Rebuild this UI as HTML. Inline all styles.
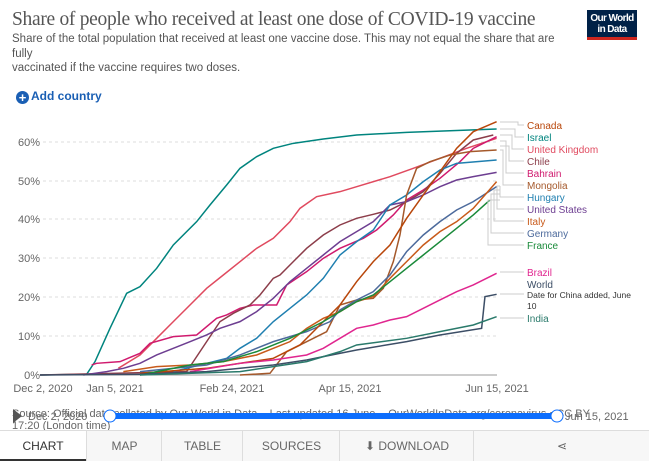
<!DOCTYPE html>
<html><head><meta charset="utf-8"><style>
body{margin:0;width:649px;height:462px;background:#fff;font-family:"Liberation Sans",sans-serif;overflow:hidden;position:relative}
.t{position:absolute;left:12px;top:9px;font-family:"Liberation Serif",serif;font-size:19.5px;color:#555;letter-spacing:-0.3px}
.s{position:absolute;left:12px;top:32px;font-size:11.5px;color:#555;line-height:14.5px;width:600px;white-space:nowrap}
.logo{position:absolute;left:587px;top:10px;width:50px;height:30px;background:#002147;color:#fff;font-size:10px;font-weight:bold;text-align:center;line-height:11px;padding-top:3px;box-sizing:border-box;letter-spacing:-0.6px;border-bottom:3px solid #ce261e}
.add{position:absolute;left:16px;top:89px;font-size:12px;color:#1a5fb4;font-weight:bold}
.add b{display:inline-block;width:13px;height:13px;border-radius:50%;background:#1a5fb4;color:#fff;text-align:center;line-height:13px;font-size:13px;vertical-align:-2px;margin-right:2px}
.tabs{position:absolute;left:0;top:430px;width:649px;height:32px;border-top:1px solid #ddd;font-size:12px;color:#666}
.tabs div{position:absolute;top:0;height:30px;line-height:30px;text-align:center;border-left:1px solid #ddd;background:#f7f7f7}
</style></head><body>
<div class="t">Share of people who received at least one dose of COVID-19 vaccine</div>
<div class="s">Share of the total population that received at least one vaccine dose. This may not equal the share that are<br>fully<br>vaccinated if the vaccine requires two doses.</div>
<div class="logo">Our World<br>in Data</div>
<div class="add"><b>+</b>Add country</div>
<svg width="649" height="462" style="position:absolute;left:0;top:0" font-family="Liberation Sans" font-size="11">
<g stroke="#ddd" stroke-dasharray="3,3">
<line x1="43" x2="497" y1="142" y2="142"/><line x1="43" x2="497" y1="181" y2="181"/><line x1="43" x2="497" y1="219" y2="219"/><line x1="43" x2="497" y1="258" y2="258"/><line x1="43" x2="497" y1="297" y2="297"/><line x1="43" x2="497" y1="336" y2="336"/></g>
<line x1="43" x2="497" y1="375" y2="375" stroke="#999"/>
<g fill="#666" text-anchor="end"><text x="40" y="146">60%</text><text x="40" y="185">50%</text><text x="40" y="223">40%</text><text x="40" y="262">30%</text><text x="40" y="301">20%</text><text x="40" y="340">10%</text><text x="40" y="379">0%</text></g>
<g fill="#666" text-anchor="middle"><text x="43" y="392">Dec 2, 2020</text><text x="115" y="392">Jan 5, 2021</text><text x="232" y="392">Feb 24, 2021</text><text x="350" y="392">Apr 15, 2021</text><text x="497" y="392">Jun 15, 2021</text></g>
<g transform="translate(40,115) scale(0.3333)" fill="none" stroke-width="4.5">
<polyline stroke="#00847e" points="0,780 140,778 165,740 210,640 260,535 300,515 350,460 400,390 470,320 510,270 560,210 600,160 650,125 700,100 760,85 850,72 950,60 1100,52 1370,42"/>
<polyline stroke="#e04a5f" points="235,760 300,720 350,670 400,620 450,570 500,520 550,480 600,440 650,400 700,370 750,320 780,280 830,245 900,230 950,215 1050,185 1120,160 1200,130 1280,100 1370,70"/>
<polyline stroke="#d01a6e" points="155,750 170,745 240,740 300,715 330,685 400,665 470,660 530,610 560,600 600,580 640,570 710,570 740,510 800,470 850,430 900,400 970,370 1010,345 1060,300 1100,255 1150,225 1200,190 1260,140 1300,100 1370,65"/>
<polyline stroke="#8c3d4a" points="0,780 440,770 460,740 500,680 540,620 580,595 630,570 660,540 700,490 720,480 760,440 800,400 850,360 900,330 950,310 1000,298 1050,285 1100,260 1150,230 1200,175 1250,115 1300,75 1360,60"/>
<polyline stroke="#6d3e91" points="130,780 200,770 250,760 300,745 350,720 400,700 450,680 500,660 540,640 600,620 650,590 700,550 750,500 800,460 850,420 900,380 950,350 1000,320 1050,270 1100,260 1150,240 1200,215 1250,195 1300,185 1370,172"/>
<polyline stroke="#1f7fb0" points="400,770 500,745 560,730 600,700 650,670 700,620 750,580 800,540 850,490 900,420 950,380 1000,345 1050,270 1100,240 1150,200 1200,165 1250,145 1370,135"/>
<polyline stroke="#a5592b" points="600,780 690,775 740,710 800,680 860,650 880,610 900,570 950,555 1000,550 1030,520 1060,440 1080,360 1100,240 1130,160 1170,140 1230,120 1290,110 1370,105"/>
<polyline stroke="#4c6a9c" points="300,770 500,750 600,720 700,680 800,650 870,620 900,585 950,555 1000,530 1050,480 1100,410 1150,360 1200,320 1250,285 1300,260 1370,215"/>
<polyline stroke="#c85a1a" points="250,770 350,755 450,750 550,740 650,720 750,680 800,640 850,610 900,590 950,560 1000,545 1050,490 1100,440 1150,390 1200,350 1250,320 1300,280 1370,200"/>
<polyline stroke="#b8460a" points="300,775 500,760 700,730 780,690 850,620 900,570 950,500 1000,440 1050,390 1100,310 1150,240 1200,170 1250,100 1300,50 1370,20"/>
<polyline stroke="#1a8a3a" points="300,780 450,750 550,740 650,710 750,670 850,620 950,560 1000,540 1050,500 1100,460 1150,420 1200,380 1250,340 1300,300 1350,255"/>
<polyline stroke="#e0268f" points="450,770 600,745 700,735 800,720 850,700 900,670 950,640 1000,630 1050,615 1100,605 1150,580 1200,555 1250,530 1300,510 1370,475"/>
<polyline stroke="#3c4e66" points="0,780 300,778 500,770 700,750 800,735 850,725 950,705 1100,680 1200,660 1325,640 1335,545 1370,538"/>
<polyline stroke="#2a7a6b" points="300,780 600,770 800,740 900,710 950,690 1100,670 1200,650 1300,630 1370,605"/>
</g>
<g stroke="#ccc" fill="none">
<polyline points="500,122 518,122 518,125 524,125"/><polyline points="500,129 515,129 515,137 524,137"/><polyline points="500,135 512,135 512,149 524,149"/><polyline points="500,146 509,146 509,161 524,161"/><polyline points="500,141 506,141 506,173 524,173"/><polyline points="500,150 503,150 503,185 524,185"/><polyline points="500,186 500,197 524,197"/><polyline points="500,186 497,186 497,209 524,209"/><polyline points="500,190 494,190 494,221 524,221"/><polyline points="500,194 491,194 491,233 524,233"/><polyline points="500,200 488,200 488,245 524,245"/>
<line x1="500" x2="524" y1="272" y2="272"/><line x1="500" x2="524" y1="294" y2="294"/><line x1="500" x2="524" y1="318" y2="318"/></g>
<g font-size="10">
<text x="527" y="129" fill="#b8460a">Canada</text><text x="527" y="141" fill="#00847e">Israel</text><text x="527" y="153" fill="#e04a5f">United Kingdom</text><text x="527" y="165" fill="#8c3d4a">Chile</text><text x="527" y="177" fill="#d01a6e">Bahrain</text><text x="527" y="189" fill="#a5592b">Mongolia</text><text x="527" y="201" fill="#1f7fb0">Hungary</text><text x="527" y="213" fill="#6d3e91">United States</text><text x="527" y="225" fill="#c85a1a">Italy</text><text x="527" y="237" fill="#4c6a9c">Germany</text><text x="527" y="249" fill="#1a8a3a">France</text>
<text x="527" y="276" fill="#e0268f">Brazil</text><text x="527" y="288" fill="#3c4e66">World</text><text x="527" y="298" fill="#333" font-size="8.5">Date for China added, June</text><text x="527" y="309" fill="#333" font-size="8.5">10</text><text x="527" y="322" fill="#2a7a6b">India</text></g>
<text x="12" y="417" fill="#666" font-size="11">Source: Official data collated by Our World in Data – Last updated 16 June, · OurWorldInData.org/coronavirus • CC BY</text>
<text x="12" y="429" fill="#666" font-size="11">17:20 (London time)</text>
<polygon points="13,409 13,423 22,416" fill="#555"/>
<text x="28" y="420" fill="#666" font-size="11">Dec 2, 2020</text><text x="565" y="420" fill="#666" font-size="11">Jun 15, 2021</text>
<line x1="110" x2="557" y1="416" y2="416" stroke="#0d6efd" stroke-width="6"/>
<circle cx="110" cy="416" r="6" fill="#fff" stroke="#0d6efd"/><circle cx="557" cy="416" r="6" fill="#fff" stroke="#0d6efd"/>
</svg>
<div class="tabs">
<div style="left:0;width:86px;border:none;background:#fff;color:#333;border-bottom:2px solid #333;height:28px">CHART</div>
<div style="left:86px;width:75px">MAP</div>
<div style="left:161px;width:81px">TABLE</div>
<div style="left:242px;width:97px">SOURCES</div>
<div style="left:339px;width:134px">⬇ DOWNLOAD</div>
<div style="left:473px;width:176px">⋖</div>
</div>
</body></html>
